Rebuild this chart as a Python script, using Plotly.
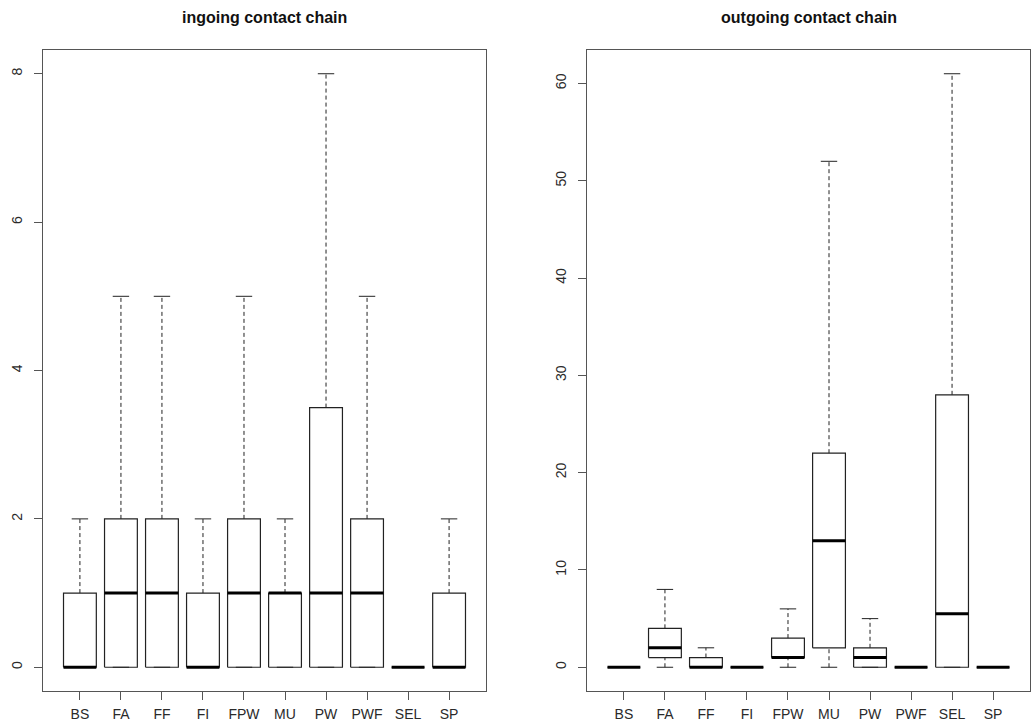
import plotly.graph_objects as go

categories = ["BS", "FA", "FF", "FI", "FPW", "MU", "PW", "PWF", "SEL", "SP"]

# ingoing contact chain: five-number summaries
in_min = [0, 0, 0, 0, 0, 0, 0, 0, 0, 0]
in_q1 = [0, 0, 0, 0, 0, 0, 0, 0, 0, 0]
in_med = [0, 1, 1, 0, 1, 1, 1, 1, 0, 0]
in_q3 = [1, 2, 2, 1, 2, 1, 3.5, 2, 0, 1]
in_max = [2, 5, 5, 2, 5, 2, 8, 5, 0, 2]

# outgoing contact chain
out_min = [0, 0, 0, 0, 0, 0, 0, 0, 0, 0]
out_q1 = [0, 1, 0, 0, 1, 2, 0, 0, 0, 0]
out_med = [0, 2, 0, 0, 1, 13, 1, 0, 5.5, 0]
out_q3 = [0, 4, 1, 0, 3, 22, 2, 0, 28, 0]
out_max = [0, 8, 2, 0, 6, 52, 5, 0, 61, 0]

in_ticks = [0, 2, 4, 6, 8]
out_ticks = [0, 10, 20, 30, 40, 50, 60]

titles = ["ingoing contact chain", "outgoing contact chain"]

fig = go.Figure()
LINE = "#222222"
BW = 0.4   # half box width
SW = 0.2   # half staple width


def add_boxes(xa, ya, mn, q1, md, q3, mx):
    bx, by, mdx, mdy, wx, wy, sx, sy = [], [], [], [], [], [], [], []
    for i in range(len(categories)):
        p = i + 1
        bx += [p - BW, p + BW, p + BW, p - BW, p - BW, None]
        by += [q1[i], q1[i], q3[i], q3[i], q1[i], None]
        mdx += [p - BW, p + BW, None]
        mdy += [md[i], md[i], None]
        wx += [p, p, None, p, p, None]
        wy += [q3[i], mx[i], None, mn[i], q1[i], None]
        sx += [p - SW, p + SW, None, p - SW, p + SW, None]
        sy += [mx[i], mx[i], None, mn[i], mn[i], None]
    common = dict(xaxis=xa, yaxis=ya, mode="lines", showlegend=False, hoverinfo="skip")
    fig.add_trace(go.Scatter(x=wx, y=wy, line=dict(color=LINE, width=1, dash="4px,3px"), **common))
    fig.add_trace(go.Scatter(x=sx, y=sy, line=dict(color=LINE, width=1), **common))
    fig.add_trace(go.Scatter(x=bx, y=by, line=dict(color=LINE, width=1.2), **common))
    fig.add_trace(go.Scatter(x=mdx, y=mdy, line=dict(color="#000000", width=3), **common))


add_boxes("x", "y", in_min, in_q1, in_med, in_q3, in_max)
add_boxes("x2", "y2", out_min, out_q1, out_med, out_q3, out_max)

xpos = list(range(1, len(categories) + 1))
axis_font = dict(family="Liberation Sans, Arial, sans-serif", size=14, color="#2a2a2a")
xcommon = dict(range=[0.1, 10.9], tickmode="array", tickvals=xpos, ticktext=categories,
               showline=True, linecolor="#555555", linewidth=1, mirror=True,
               ticks="outside", ticklen=8, tickcolor="#555555", showgrid=False,
               zeroline=False, tickfont=axis_font, fixedrange=True, ticklabelstandoff=2)
ycommon = dict(showline=True, linecolor="#555555", linewidth=1, mirror=True,
               ticks="outside", ticklen=8, tickcolor="#555555", showgrid=False,
               zeroline=False, tickfont=axis_font, tickangle=-90, fixedrange=True,
               ticklabelstandoff=6)

ydom = [(724 - 691) / 724, (724 - 50) / 724]
title_font = dict(family="Liberation Sans, Arial, sans-serif", size=16, color="#111111")
fig.update_layout(
    width=1034, height=724,
    margin=dict(l=0, r=0, t=0, b=0),
    paper_bgcolor="white", plot_bgcolor="white",
    xaxis=dict(domain=[43 / 1034, 486 / 1034], anchor="y", **xcommon),
    yaxis=dict(domain=ydom, anchor="x", range=[-0.32, 8.32], tickvals=in_ticks, **ycommon),
    xaxis2=dict(domain=[587 / 1034, 1030 / 1034], anchor="y2", **xcommon),
    yaxis2=dict(domain=ydom, anchor="x2", range=[-2.44, 63.44], tickvals=out_ticks, **ycommon),
    annotations=[
        dict(text="<b>%s</b>" % titles[0], x=(43 + 486) / 2 / 1034, y=1 - 18 / 724,
             xref="paper", yref="paper", showarrow=False, xanchor="center", yanchor="middle",
             font=title_font),
        dict(text="<b>%s</b>" % titles[1], x=(587 + 1030) / 2 / 1034, y=1 - 18 / 724,
             xref="paper", yref="paper", showarrow=False, xanchor="center", yanchor="middle",
             font=title_font),
    ],
)

fig.write_html("out.html", config={"displayModeBar": False},
               post_script="document.body.style.margin='0px';")
